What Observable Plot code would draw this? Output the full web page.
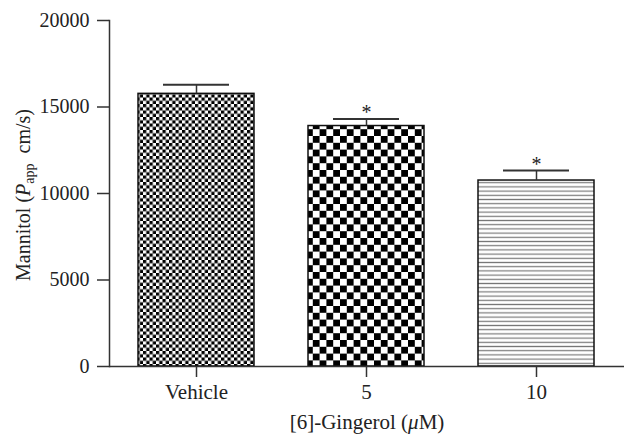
<!DOCTYPE html>
<html><head><meta charset="utf-8">
<script src="https://cdn.jsdelivr.net/npm/d3@7"></script>
<script src="https://cdn.jsdelivr.net/npm/@observablehq/plot@0.6"></script>
<style>body{margin:0;background:#fff}</style>
</head><body><div id="chart"></div>
<script>
const groups = ["Vehicle", "5", "10"];
const means = [15760, 13900, 10750];
const errTops = [16280, 14310, 11330];
const significant = [false, true, true];
const patternIds = ["fineCheck", "coarseCheck", "hLines"];
const yTicks = [0, 5000, 10000, 15000, 20000];

const data = groups.map((g, i) => ({group: g, mean: means[i], err: errTops[i], sig: significant[i]}));
const FONT = "'Liberation Serif', 'DejaVu Serif', serif";

const plot = Plot.plot({
  width: 624, height: 438,
  marginTop: 20, marginBottom: 72, marginLeft: 109, marginRight: 0,
  style: {fontFamily: FONT, fontSize: "20px", color: "#222", background: "#fff"},
  x: {domain: groups, paddingInner: 0.316, paddingOuter: 0.164, label: null},
  y: {domain: [0, 20000], label: null},
  marks: [
    ...groups.map((g, i) => Plot.barY(data.filter(d => d.group === g), {
      x: "group", y: "mean", fill: `url(#${patternIds[i]})`, stroke: "#111", strokeWidth: 1.5
    })),
    Plot.ruleX(data, {x: "group", y1: "mean", y2: "err", stroke: "#333", strokeWidth: 1.5}),
    Plot.tickY(data, {x: "group", y: "err", stroke: "#333", strokeWidth: 2, insetLeft: 25, insetRight: 25}),
    Plot.text(data.filter(d => d.sig), {x: "group", y: "err", text: () => "*", dy: -6, fontSize: 20, fill: "#222"}),
    Plot.axisY({ticks: yTicks, tickSize: 12, tickPadding: 8, tickFormat: d => String(d), fontSize: 20, stroke: "#333", strokeWidth: 1.5}),
    Plot.axisX({tickSize: 11, tickPadding: 7, fontSize: 21, stroke: "#333", strokeWidth: 1.5}),
    Plot.ruleY([0], {stroke: "#333", strokeWidth: 1.5}),
    Plot.frame({anchor: "left", stroke: "#333", strokeWidth: 1.5})
  ]
});

const svg = d3.select(plot);
const defs = svg.insert("defs", ":first-child");
// fine checkerboard
let p = defs.append("pattern").attr("id", "fineCheck").attr("patternUnits", "userSpaceOnUse")
  .attr("width", 6.5).attr("height", 6.5);
p.append("rect").attr("width", 6.5).attr("height", 6.5).attr("fill", "#fff");
p.append("rect").attr("width", 3.25).attr("height", 3.25).attr("fill", "#000");
p.append("rect").attr("x", 3.25).attr("y", 3.25).attr("width", 3.25).attr("height", 3.25).attr("fill", "#000");
// coarse checkerboard
p = defs.append("pattern").attr("id", "coarseCheck").attr("patternUnits", "userSpaceOnUse")
  .attr("width", 13.6).attr("height", 13.6);
p.append("rect").attr("width", 13.6).attr("height", 13.6).attr("fill", "#fff");
p.append("rect").attr("width", 6.8).attr("height", 6.8).attr("fill", "#000");
p.append("rect").attr("x", 6.8).attr("y", 6.8).attr("width", 6.8).attr("height", 6.8).attr("fill", "#000");
// horizontal lines
p = defs.append("pattern").attr("id", "hLines").attr("patternUnits", "userSpaceOnUse")
  .attr("width", 8).attr("height", 4.2);
p.append("rect").attr("width", 8).attr("height", 4.2).attr("fill", "#fff");
p.append("rect").attr("y", 1.5).attr("width", 8).attr("height", 1.2).attr("fill", "#777");

// axis titles
svg.append("text").attr("x", 367).attr("y", 429).attr("text-anchor", "middle")
  .attr("font-family", FONT).attr("font-size", 21).attr("fill", "#222")
  .call(t => {
    t.append("tspan").text("[6]-Gingerol (");
    t.append("tspan").attr("font-style", "italic").text("μ");
    t.append("tspan").text("M)");
  });
svg.append("text").attr("transform", "translate(30,195) rotate(-90)").attr("text-anchor", "middle")
  .attr("font-family", FONT).attr("font-size", 20).attr("fill", "#222")
  .call(t => {
    t.append("tspan").text("Mannitol (");
    t.append("tspan").attr("font-style", "italic").text("P");
    t.append("tspan").attr("font-size", 14).attr("dy", 4).text("app");
    t.append("tspan").attr("dy", -4).text("\u2002cm/s)");
  });

document.getElementById("chart").appendChild(plot);
</script>
</body></html>
